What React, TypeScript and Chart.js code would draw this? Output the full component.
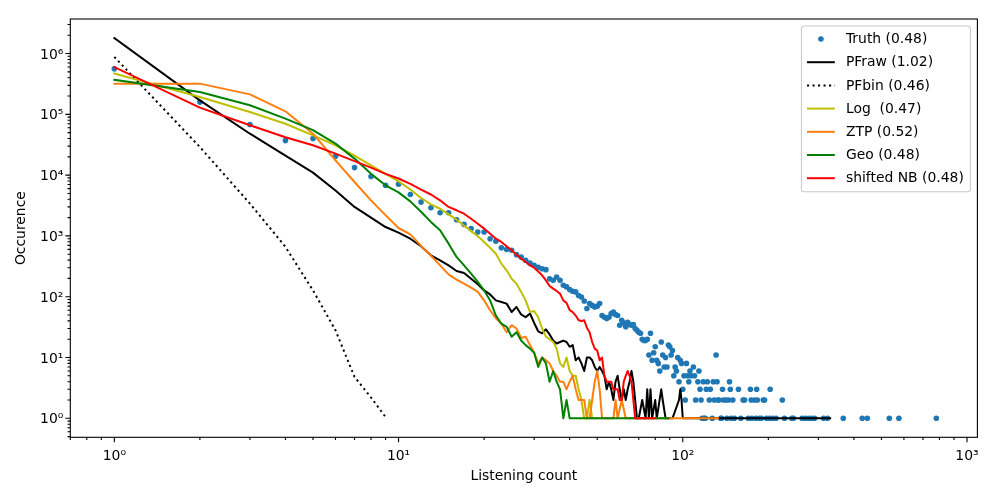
import React, { useEffect, useRef } from "react";
import { Chart, registerables } from "chart.js";

Chart.register(...registerables);

// ---------- data ----------
// Truth: counts for listening count 1..99, then a sparse tail
const truthHead = [
  560000, 159000, 68000, 37000, 40000, 20400, 13300, 9500, 6800, 7100,
  4800, 3600, 2900, 2400, 2400, 1850, 1550, 1320, 1160, 1160,
  900, 815, 640, 600, 580, 492, 450, 398, 358, 330,
  305, 288, 279, 198, 186, 211, 186, 154, 145, 131,
  123, 120, 105, 99, 85, 64, 77, 72, 68, 70,
  77, 49, 46, 44, 46, 53, 56, 51, 49, 34,
  41, 37, 32, 38, 35, 34, 35, 30, 28, 26,
  25, 20, 19, 19, 20, 11, 25, 9, 12, 15,
  9, 8, 6, 18, 11, 7, 10, 7, 16, 15,
  11, 13, 5, 7, 6, 10, 4, 9, 8,
];
const truthTailX = [
  100, 101, 102, 103, 104, 105, 106, 107, 109, 110, 111, 113, 114, 115, 116, 117, 118, 119, 120, 121,
  122, 124, 125, 127, 128, 129, 131, 132, 133, 134, 136, 137, 138, 139, 142, 143, 145, 146, 147, 148,
  150, 152, 157, 160, 163, 165, 170, 173, 174, 175, 179, 181, 182, 183, 186, 189, 192, 194, 197, 202,
  203, 207, 213, 224, 228, 242, 245, 263, 270, 277, 284, 291, 313, 323, 367, 428, 446, 533, 576, 780,
];
const truthTailY = [
  3, 5, 2, 8, 5, 4, 6, 5, 7, 5, 2, 4, 6, 3, 2, 1, 4, 1, 1, 3,
  4, 2, 3, 1, 4, 2, 11, 4, 2, 2, 1, 1, 3, 2, 2, 1, 2, 4, 3, 1,
  2, 1, 3, 1, 2, 2, 1, 3, 2, 1, 2, 1, 3, 2, 1, 1, 2, 2, 1, 1,
  3, 1, 1, 2, 1, 1, 1, 1, 1, 1, 1, 1, 1, 1, 1, 1, 1, 1, 1, 1,
];

// PFraw: x = 1..70, then tail
const pfrawHead = [
  1800000, 170000, 48000, 21000, 11000, 5600, 3000, 2000, 1400, 1130,
  900, 675, 480, 397, 328, 265, 245, 198, 160, 127,
  109, 87, 82, 77, 56, 68, 51, 46, 53, 37,
  27, 25, 29, 24, 19, 17, 18, 19, 18, 15,
  16, 9, 10, 8, 6, 10, 10, 9, 7, 6,
  7, 6, 5, 3, 4, 3, 2, 4, 5, 3,
  2, 3, 2, 3, 4, 6, 4, 2, 1, 1,
];
const pfrawTailX = [72, 74, 75, 76, 77, 78, 80, 81, 84, 85, 87, 90, 92, 97, 98, 99, 100, 105, 115, 130, 160, 200, 250, 300, 330];
const pfrawTailY = [2, 1, 3, 1, 3, 1, 2, 1, 3, 2, 1, 1, 1, 2, 3, 2, 1, 1, 1, 1, 1, 1, 1, 1, 1];

// PFbin: x = 1..9
const pfbinHead = [880000, 29000, 3400, 660, 127, 28, 4.8, 2.2, 1.05];

// Log: x = 1..48, then tail
const logHead = [
  470000, 193000, 109000, 70000, 45000, 31000, 21000, 14500, 10500, 7900,
  5800, 4200, 3300, 2800, 2260, 1850, 1480, 1200, 985, 795,
  640, 510, 350, 272, 198, 164, 120, 87, 56, 58,
  46, 30, 22, 20, 18, 14, 8, 7, 10, 6,
  5, 5, 3, 2, 1, 1, 2, 1,
];
const logTailX = [50];
const logTailY = [1];

// ZTP: x = 1..52, then tail
const ztpHead = [
  320000, 320000, 213000, 112000, 48000, 17500, 7700, 3850, 2200, 1350,
  1060, 690, 473, 328, 233, 191, 164, 141, 120, 87,
  60, 44, 36, 26, 34, 30, 21, 22, 16, 12,
  8, 10, 9, 8, 6, 5, 4, 4, 3, 4,
  5, 3, 2, 2, 2, 1, 1, 2, 4, 6,
  3, 1,
];
const ztpTailX = [57, 58, 59, 61, 63, 67, 72, 80, 90, 100, 110, 120, 133];
const ztpTailY = [1, 2, 1, 2, 1, 1, 1, 1, 1, 1, 1, 1, 1];

// Geo: x = 1..40, then tail
const geoHead = [
  370000, 233000, 141000, 85000, 55000, 33000, 18700, 10500, 6800, 5200,
  3700, 2500, 1700, 1240, 746, 451, 328, 240, 175, 127,
  87, 49, 36, 32, 22, 26, 19, 16, 14, 12,
  7, 10, 8, 4, 6, 4, 3, 1, 2, 1,
];
const geoTailX = [45, 50, 55, 60, 65, 70, 75, 80, 85, 89];
const geoTailY = [1, 1, 1, 1, 1, 1, 1, 1, 1, 1];

// shifted NB: x = 1..70, then tail
const nbHead = [
  600000, 129000, 66000, 42000, 31000, 22600, 17000, 13300, 10500, 8800,
  7200, 5800, 4800, 3850, 3000, 2640, 2320, 1920, 1590, 1320,
  1090, 900, 795, 675, 580, 492, 423, 373, 328, 300,
  260, 225, 186, 150, 136, 124, 112, 87, 79, 60,
  56, 49, 41, 40, 41, 31, 26, 18, 14, 13,
  9, 10, 5, 4, 4, 4, 3, 3, 3, 2,
  2, 4, 5, 6, 5, 4, 2, 1, 1, 1,
];
const nbTailX = [72, 75, 80];
const nbTailY = [1, 1, 1];

const seriesLabels = [
  "Truth (0.48)",
  "PFraw (1.02)",
  "PFbin (0.46)",
  "Log  (0.47)",
  "ZTP (0.52)",
  "Geo (0.48)",
  "shifted NB (0.48)",
];

const xTickValues = [1, 10, 100, 1000];
const yTickValues = [1, 10, 100, 1000, 10000, 100000, 1000000];

// ---------- helpers ----------
const FONT = "DejaVu Sans";
const FS = 13.9;
const SUP = ["⁰", "¹", "²", "³", "⁴", "⁵", "⁶", "⁷", "⁸", "⁹"];
const powLabel = (v: number) => {
  const e = Math.round(Math.log10(v));
  return "10" + (e < 0 ? "⁻" : "") + String(Math.abs(e)).split("").map((d) => SUP[+d]).join("");
};

function pts(head: number[], tailX: number[] = [], tailY: number[] = []) {
  return [
    ...head.map((y, i) => ({ x: i + 1, y })),
    ...tailX.map((x, i) => ({ x, y: tailY[i] })),
  ];
}

const mplAxes = {
  id: "mplAxes",
  afterDatasetsDraw(chart: any) {
    const { ctx, chartArea: a, scales } = chart;
    const xs = scales.x;
    const ys = scales.y;
    ctx.save();
    ctx.strokeStyle = "#000";
    ctx.lineWidth = 1.1;
    ctx.lineCap = "butt";
    ctx.beginPath();
    for (let e = -1; e <= 3; e++) {
      for (let m = 1; m <= 9; m++) {
        const v = m * Math.pow(10, e);
        if (v < xs.min || v > xs.max) continue;
        const p = xs.getPixelForValue(v);
        const len = m === 1 ? 4.9 : 2.8;
        ctx.moveTo(p, a.bottom);
        ctx.lineTo(p, a.bottom + len);
      }
    }
    for (let e = -1; e <= 6; e++) {
      for (let m = 1; m <= 9; m++) {
        const v = m * Math.pow(10, e);
        if (v < ys.min || v > ys.max) continue;
        const p = ys.getPixelForValue(v);
        const len = m === 1 ? 4.9 : 2.8;
        ctx.moveTo(a.left, p);
        ctx.lineTo(a.left - len, p);
      }
    }
    ctx.stroke();
    ctx.strokeRect(a.left, a.top, a.right - a.left, a.bottom - a.top);
    ctx.restore();
  },
};

const mplLegend = {
  id: "mplLegend",
  afterDraw(chart: any) {
    const { ctx, chartArea: a } = chart;
    const ds = chart.data.datasets;
    ctx.save();
    ctx.font = `${FS}px "${FONT}"`;
    let maxW = 0;
    ds.forEach((d: any) => {
      maxW = Math.max(maxW, ctx.measureText(d.label).width);
    });
    const pad = 5.6;
    const handleLen = 27.8;
    const textPad = 11.1;
    const rowH = 23.2;
    const width = pad + handleLen + textPad + maxW + pad + 1;
    const height = 13 + (ds.length - 1) * rowH + 13.5;
    const right = a.right - 7;
    const top = a.top + 7;
    const left = right - width;
    const r = 2.8;
    ctx.beginPath();
    ctx.moveTo(left + r, top);
    ctx.lineTo(right - r, top);
    ctx.arcTo(right, top, right, top + r, r);
    ctx.lineTo(right, top + height - r);
    ctx.arcTo(right, top + height, right - r, top + height, r);
    ctx.lineTo(left + r, top + height);
    ctx.arcTo(left, top + height, left, top + height - r, r);
    ctx.lineTo(left, top + r);
    ctx.arcTo(left, top, left + r, top, r);
    ctx.closePath();
    ctx.fillStyle = "rgba(255,255,255,0.8)";
    ctx.fill();
    ctx.strokeStyle = "#cccccc";
    ctx.lineWidth = 1.1;
    ctx.stroke();

    ds.forEach((d: any, i: number) => {
      const cy = top + 13 + i * rowH;
      const hx0 = left + pad;
      const hx1 = hx0 + handleLen;
      if (d.showLine === false) {
        ctx.beginPath();
        ctx.fillStyle = d.pointBackgroundColor;
        ctx.arc((hx0 + hx1) / 2, cy, d.pointRadius, 0, Math.PI * 2);
        ctx.fill();
      } else {
        ctx.beginPath();
        ctx.setLineDash(d.borderDash || []);
        ctx.lineWidth = d.borderWidth;
        ctx.strokeStyle = d.borderColor;
        ctx.lineCap = "butt";
        ctx.moveTo(hx0, cy);
        ctx.lineTo(hx1, cy);
        ctx.stroke();
        ctx.setLineDash([]);
      }
      ctx.fillStyle = "#000";
      ctx.textAlign = "left";
      ctx.textBaseline = "middle";
      ctx.fillText(d.label, hx1 + textPad, cy + 0.5);
    });
    ctx.restore();
  },
};

function lineDs(label: string, data: any[], color: string, dash?: number[]) {
  return {
    label,
    data,
    showLine: true,
    borderColor: color,
    backgroundColor: color,
    borderWidth: 2,
    borderDash: dash || [],
    borderJoinStyle: "round",
    borderCapStyle: dash ? "butt" : "square",
    pointRadius: 0,
    pointHoverRadius: 0,
    tension: 0,
  };
}

export default function App() {
  const ref = useRef<HTMLCanvasElement>(null);

  useEffect(() => {
    const canvas = ref.current;
    if (!canvas) return;
    const datasets: any[] = [
      {
        label: seriesLabels[0],
        data: pts(truthHead, truthTailX, truthTailY),
        showLine: false,
        pointRadius: 2.8,
        pointHoverRadius: 2.8,
        pointBorderWidth: 0,
        pointBackgroundColor: "#1f77b4",
        backgroundColor: "#1f77b4",
        borderColor: "#1f77b4",
        order: 7,
      },
      { ...lineDs(seriesLabels[1], pts(pfrawHead, pfrawTailX, pfrawTailY), "#000000"), order: 6 },
      { ...lineDs(seriesLabels[2], pts(pfbinHead), "#000000", [2.1, 3.4]), order: 5 },
      { ...lineDs(seriesLabels[3], pts(logHead, logTailX, logTailY), "#bfbf00"), order: 4 },
      { ...lineDs(seriesLabels[4], pts(ztpHead, ztpTailX, ztpTailY), "#ff7f0e"), order: 3 },
      { ...lineDs(seriesLabels[5], pts(geoHead, geoTailX, geoTailY), "#008000"), order: 2 },
      { ...lineDs(seriesLabels[6], pts(nbHead, nbTailX, nbTailY), "#ff0000"), order: 1 },
    ];

    const tickFont = { family: FONT, size: FS };
    const chart = new Chart(canvas, {
      type: "scatter",
      data: { datasets },
      options: {
        animation: false,
        responsive: false,
        devicePixelRatio: 1,
        events: [],
        layout: { padding: { top: 19, right: 22.6, left: 0, bottom: 0 } },
        plugins: {
          legend: { display: false },
          tooltip: { enabled: false },
        },
        scales: {
          x: {
            type: "logarithmic",
            position: "bottom",
            min: 0.717,
            max: 1088,
            grid: { display: false, drawTicks: false },
            border: { display: false },
            afterBuildTicks: (s: any) => {
              s.ticks = xTickValues.map((v) => ({ value: v, major: true }));
            },
            afterFit: (s: any) => {
              s.height = 62.7;
            },
            ticks: {
              autoSkip: false,
              maxRotation: 0,
              padding: 11,
              color: "#000",
              font: tickFont,
              callback: (v: any) => powLabel(Number(v)),
            },
            title: {
              display: true,
              text: "Listening count",
              color: "#000",
              font: tickFont,
              padding: { top: 0, bottom: 15 },
            },
          },
          y: {
            type: "logarithmic",
            position: "left",
            min: 0.487,
            max: 3.7e6,
            grid: { display: false, drawTicks: false },
            border: { display: false },
            afterBuildTicks: (s: any) => {
              s.ticks = yTickValues.map((v) => ({ value: v, major: true }));
            },
            afterFit: (s: any) => {
              s.width = 70.3;
            },
            ticks: {
              autoSkip: false,
              padding: 7,
              labelOffset: 1.5,
              color: "#000",
              font: tickFont,
              callback: (v: any) => powLabel(Number(v)),
            },
            title: {
              display: true,
              text: "Occurence",
              color: "#000",
              font: tickFont,
              padding: { top: 13.3, bottom: 0 },
            },
          },
        },
      } as any,
      plugins: [mplAxes, mplLegend],
    });
    return () => chart.destroy();
  }, []);

  return (
    <div style={{ position: "fixed", left: 0, top: 0, width: 1000, height: 500, background: "#fff" }}>
      <canvas ref={ref} width={1000} height={500} style={{ width: 1000, height: 500, display: "block" }} />
    </div>
  );
}
